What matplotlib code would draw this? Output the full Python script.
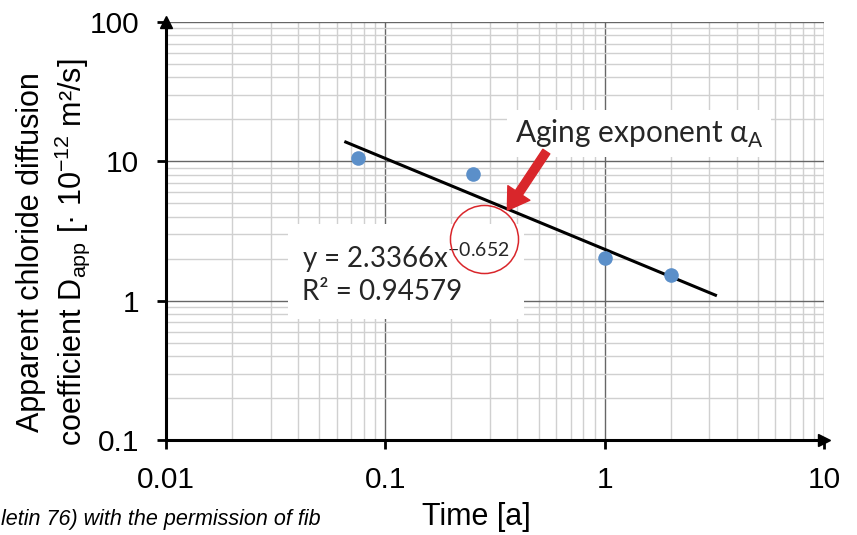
import numpy as np
import matplotlib
matplotlib.use("Agg")
import matplotlib.pyplot as plt
from matplotlib.ticker import LogLocator, FixedLocator, FixedFormatter, NullFormatter

# data
time_a = [0.075, 0.25, 1.0, 2.0]
d_app = [10.6, 8.1, 2.02, 1.53]
fit_coef = 2.3366
fit_exp = -0.652
fit_r2 = 0.94579
fit_range = [0.066, 3.2]
x_ticks = [0.01, 0.1, 1, 10]
x_labels = ["0.01", "0.1", "1", "10"]
y_ticks = [0.1, 1, 10, 100]
y_labels = ["0.1", "1", "10", "100"]

plt.rcParams["font.family"] = ["Liberation Sans", "DejaVu Sans"]
plt.rcParams["mathtext.fontset"] = "custom"
plt.rcParams["mathtext.rm"] = "Liberation Sans"

RED = "#d9262b"
BLUE = "#5b8fc9"

fig = plt.figure(figsize=(8.57, 5.35), dpi=100, facecolor="white")
ax = fig.add_axes([0.1937, 0.1776, 0.7678, 0.7813])
ax.set_xscale("log")
ax.set_yscale("log")
ax.set_xlim(0.01, 10)
ax.set_ylim(0.1, 100)

# grid
ax.xaxis.set_minor_locator(LogLocator(base=10, subs=np.arange(2, 10)))
ax.yaxis.set_minor_locator(LogLocator(base=10, subs=np.arange(2, 10)))
ax.xaxis.set_minor_formatter(NullFormatter())
ax.yaxis.set_minor_formatter(NullFormatter())
ax.grid(True, which="minor", color="#d0d0d0", lw=1.0, zorder=0)
ax.grid(True, which="major", color="#666666", lw=1.0, zorder=0)
ax.set_axisbelow(True)

ax.xaxis.set_major_locator(FixedLocator(x_ticks))
ax.xaxis.set_major_formatter(FixedFormatter(x_labels))
ax.yaxis.set_major_locator(FixedLocator(y_ticks))
ax.yaxis.set_major_formatter(FixedFormatter(y_labels))
ax.tick_params(which="major", direction="out", length=6.5, width=2, labelsize=21.5,
               colors="black")
ax.tick_params(axis="x", which="major", pad=12)
ax.tick_params(axis="y", which="major", pad=13)
ax.tick_params(which="minor", length=0)

for s in ["top", "right"]:
    ax.spines[s].set_visible(False)
for s in ["left", "bottom"]:
    ax.spines[s].set_linewidth(2.2)
    ax.spines[s].set_zorder(5)

# axis arrows
ax.plot(0, 1, marker="^", color="black", ms=8, transform=ax.transAxes, clip_on=False, zorder=6)
ax.plot(1, 0, marker=">", color="black", ms=8, transform=ax.transAxes, clip_on=False, zorder=6)

# data + power fit
ax.plot(time_a, d_app, "o", color=BLUE, ms=10.5, mec="none", zorder=4)
xf = np.logspace(np.log10(fit_range[0]), np.log10(fit_range[1]), 50)
ax.plot(xf, fit_coef * xf ** fit_exp, color="black", lw=2.2, zorder=3)

# equation box
ax.text(0.207, 0.40,
        "y = %.4fx$^{\\mathregular{%.3f}}$\nR² = %.5f" % (fit_coef, fit_exp, fit_r2),
        transform=ax.transAxes, fontsize=20, family=["Lato", "DejaVu Sans"],
        color="#262626", va="center", ha="left", linespacing=1.2,
        bbox=dict(boxstyle="square,pad=0.5", fc="white", ec="none"), zorder=2.5)

# red circle around exponent
ax.plot(0.483, 0.481, marker="o", ms=49, mfc="none", mec=RED, mew=1.1,
        transform=ax.transAxes, clip_on=False, zorder=4)

# annotation label
ax.text(0.53, 0.733, "Aging exponent α$_{\\mathregular{A}}$", transform=ax.transAxes,
        fontsize=21.5, family=["Lato", "DejaVu Sans"], color="#262626", va="center",
        ha="left", bbox=dict(boxstyle="square,pad=0.25", fc="white", ec="none"), zorder=2.5)
ax.annotate("", xy=(0.36, 4.45), xycoords="data", xytext=(0.578, 0.69),
            textcoords="axes fraction",
            arrowprops=dict(arrowstyle="simple,head_length=1.5,head_width=1.9,tail_width=0.6",
                            fc=RED, ec=RED, shrinkA=0, shrinkB=0), zorder=5)

# axis labels
fig.text(54 / 857, 1 - 252 / 535,
         "Apparent chloride diffusion\ncoefficient D$_{\\mathregular{app}}$ [· 10$^{\\mathregular{-12}}$ m²/s]",
         rotation=90, ha="center", va="center", fontsize=22, linespacing=1.25)
fig.text(476 / 857, 1 - 517 / 535, "Time [a]", ha="center", va="center", fontsize=22)
# caption is cropped at the left edge in the reference; only its visible part is kept
fig.text(1 / 857, 1 - 519 / 535, "letin 76) with the permission of fib",
         ha="left", va="center", fontsize=15.5, style="italic")

fig.savefig("out.png", dpi=100, facecolor="white")
